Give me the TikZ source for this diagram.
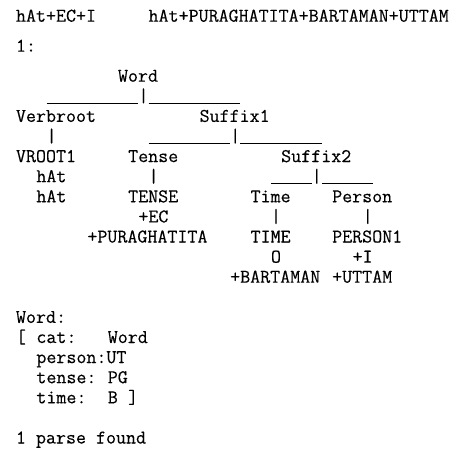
\documentclass[tikz,border=0pt]{standalone}
\usepackage{fontspec}
\setmonofont{Latin Modern Mono}[FakeBold=0.3]
\newcommand\cw{10.2}
\tikzset{
  txt/.style={anchor=base west, inner sep=0pt, outer sep=0pt, text=black,
    font=\fontsize{19.43}{20}\selectfont\ttfamily},
  bar/.style={line width=0.9pt, black},
}
% \tx{name}{column}{baseline}{text}
\newcommand\tx[4]{\node[txt] (#1) at ({16+\cw*#2},{-#3}) {#4};}
% underscore run: \hb{name}{first col}{last col+1}{baseline}
\newcommand\hb[4]{%
  \coordinate (#1a) at ({16+\cw*#2},{-#4-1.2});
  \coordinate (#1b) at ({16+\cw*#3},{-#4-1.2});
  \draw[bar] (#1a) -- (#1b);}
\begin{document}
\begin{tikzpicture}[x=1pt,y=1pt]
\path[use as bounding box, fill=white] (0,0) rectangle (458,-448);
% header
\tx{in}{0}{21.7}{hAt+EC+I}
\tx{out}{13}{21.7}{hAt+PURAGHATITA+BARTAMAN+UTTAM}
\tx{num}{0}{51.7}{1:}
% tree
\tx{word}{10}{81.7}{Word}
\hb{u1}{3}{12}{101.8}
\tx{b1}{12}{101.8}{|}
\hb{u2}{13}{22}{101.8}
\tx{verbroot}{0}{121.9}{Verbroot}
\tx{suffix1}{18}{121.9}{Suffix1}
\tx{b2}{3}{142.0}{|}
\hb{u3}{13}{21}{142.0}
\tx{b3}{21}{142.0}{|}
\hb{u4}{22}{30}{142.0}
\tx{vroot}{0}{162.1}{VROOT1}
\tx{tense}{11}{162.1}{Tense}
\tx{suffix2}{26}{162.1}{Suffix2}
\tx{hat1}{2}{182.2}{hAt}
\tx{b4}{13}{182.2}{|}
\hb{u5}{25}{29}{182.2}
\tx{b5}{29}{182.2}{|}
\hb{u6}{30}{35}{182.2}
\tx{hat2}{2}{202.3}{hAt}
\tx{tenseU}{11}{202.3}{TENSE}
\tx{time}{23}{202.3}{Time}
\tx{person}{31}{202.3}{Person}
\tx{ec}{12}{222.4}{+EC}
\tx{b6}{25}{222.4}{|}
\tx{b7}{34}{222.4}{|}
\tx{puragh}{7}{242.5}{+PURAGHATITA}
\tx{timeU}{23}{242.5}{TIME}
\tx{person1}{31}{242.5}{PERSON1}
\tx{zero}{25}{262.6}{O}
\tx{plusi}{33}{262.6}{+I}
\tx{bartaman}{21}{282.7}{+BARTAMAN}
\tx{uttam}{31}{282.7}{+UTTAM}
% feature structure
\tx{wordc}{0}{322.9}{Word:}
\tx{lbr}{0}{343.0}{[}
\tx{cat}{2}{343.0}{cat:}
\tx{catv}{9}{343.0}{Word}
\tx{pers}{2}{363.1}{person:UT}
\tx{tns}{2}{383.2}{tense:}
\tx{tnsv}{9}{383.2}{PG}
\tx{tim}{2}{403.3}{time:}
\tx{timv}{9}{403.3}{B}
\tx{rbr}{11}{403.3}{]}
\tx{found}{0}{443.5}{1 parse found}
\end{tikzpicture}
\end{document}
